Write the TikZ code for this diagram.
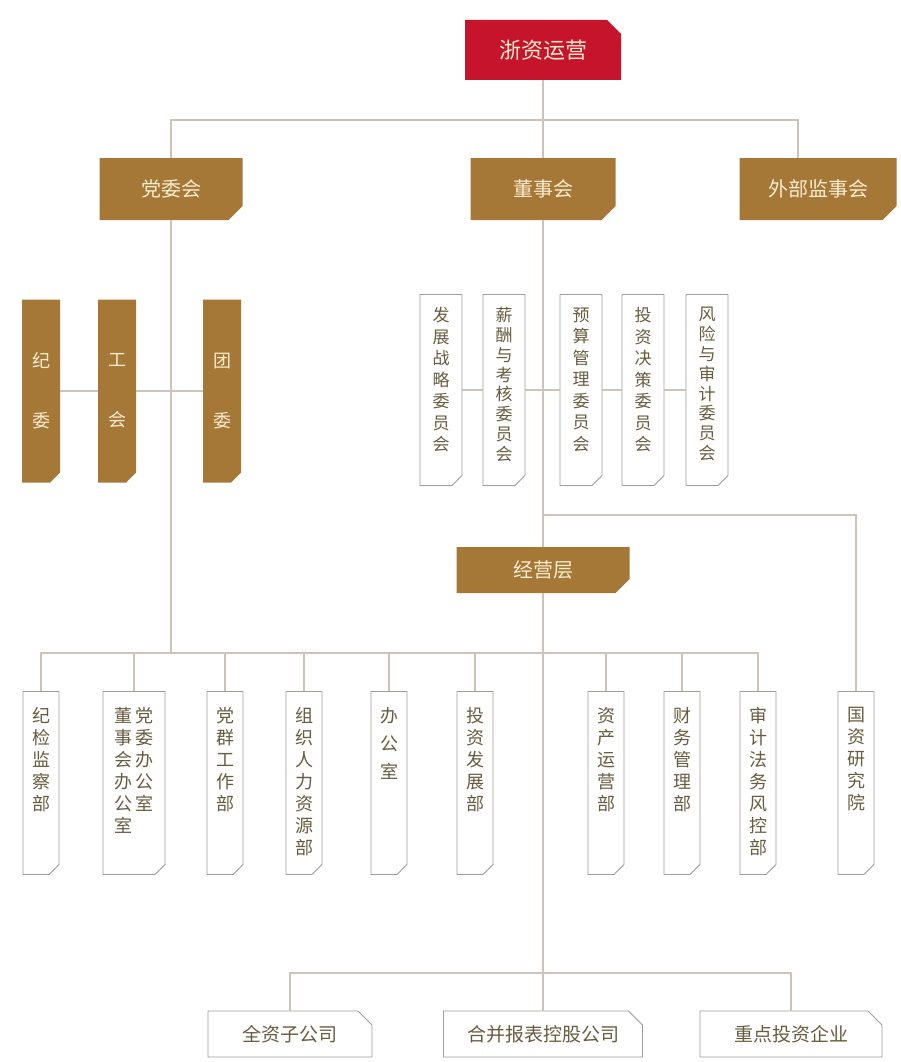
\documentclass[tikz,border=0pt]{standalone}
\usepackage{fontspec}
\usepackage{tikz}
\usetikzlibrary{shapes.misc, calc}
\newfontfamily\cjk{Noto Sans CJK SC}
\definecolor{rouge}{RGB}{198,20,44}
\definecolor{dore}{RGB}{166,120,56}
\definecolor{creme}{RGB}{250,236,206}
\definecolor{trait}{RGB}{204,196,184}
\definecolor{encre}{RGB}{104,92,64}
\definecolor{bord}{RGB}{160,156,150}
\newcommand{\colonne}[2]{\parbox[c][#1][t]{24pt}{\centering #2}}

\tikzset{
  ligne/.style={draw=trait, line width=1.3pt},
  coin/.style={chamfered rectangle, chamfered rectangle corners=#1,
    chamfered rectangle xsep=7pt, chamfered rectangle ysep=7pt},
  tete/.style={coin=north east, fill=rouge, text=creme,
    font=\cjk\fontsize{22}{26}\selectfont, minimum width=156pt,
    minimum height=60pt, inner sep=0pt},
  garde/.style={coin=south east, fill=dore, text=creme,
    font=\cjk\fontsize{20}{24}\selectfont, minimum height=62pt, inner sep=0pt},
  pilier/.style={coin=south east, chamfered rectangle xsep=5pt,
    chamfered rectangle ysep=5pt, fill=dore, text=creme,
    font=\cjk\fontsize{18}{22}\selectfont, minimum width=38pt,
    minimum height=183pt, inner sep=0pt, align=center},
  comite/.style={coin=south east, chamfered rectangle xsep=5pt,
    chamfered rectangle ysep=5pt, draw=bord, line width=0.9pt, fill=white,
    text=encre, font=\cjk\fontsize{17}{21}\selectfont,
    inner xsep=4pt, inner ysep=8pt},
  filiale/.style={coin=north east, draw=bord, line width=0.9pt, fill=white,
    text=encre, font=\cjk\fontsize{19}{22}\selectfont,
    minimum height=46pt, inner sep=0pt}
}

\begin{document}
\begin{tikzpicture}[x=1pt, y=-1pt]
  \useasboundingbox (0,0) rectangle (901,1062);

  % Tête du groupe
  \node[tete] (zy) at (543,50) {浙资运营};

  % Organes de gouvernance
  \node[garde, minimum width=143pt] (dwh) at (171,189) {党委会};
  \node[garde, minimum width=145pt] (dsh) at (543,189) {董事会};
  \node[garde, minimum width=157pt] (wbjs) at (818,189) {外部监事会};

  % Organes du parti
  \foreach \nom/\x/\a/\b in {jw/41/纪/委, gh/117/工/会, tw/222/团/委}
    \node[pilier] (\nom) at (\x,391) {\vspace{6pt}\a\\[38pt]\b};

  % Comités du conseil
  \foreach \nom/\x/\p/\txt in {c1/441/21.5/发\\展\\战\\略\\委\\员\\会,
      c2/504/19.8/薪\\酬\\与\\考\\核\\委\\员\\会, c3/581/21.5/预\\算\\管\\理\\委\\员\\会,
      c4/643/21.5/投\\资\\决\\策\\委\\员\\会, c5/707/19.8/风\\险\\与\\审\\计\\委\\员\\会}
    \node[comite] (\nom) at (\x,390)
      {\colonne{165pt}{\fontsize{17}{\p}\selectfont\txt}};

  % Direction
  \node[garde, minimum width=173pt, minimum height=46pt] (jyc) at (543,570) {经营层};

  % Départements
  \foreach \nom/\x/\txt in {d1/41/纪\\检\\监\\察\\部, d3/225/党\\群\\工\\作\\部,
      d4/304/组\\织\\人\\力\\资\\源\\部, d5/389/办\\[6pt]公\\[6pt]室,
      d6/475/投\\资\\发\\展\\部, d7/606/资\\产\\运\\营\\部,
      d8/682/财\\务\\管\\理\\部, d9/758/审\\计\\法\\务\\风\\控\\部,
      gzy/856/国\\资\\研\\究\\院}
    \node[comite, font=\cjk\fontsize{18}{22}\selectfont, inner xsep=1pt,
      inner ysep=11pt] (\nom) at (\x,783) {\colonne{151pt}{\txt}};
  \node[comite, font=\cjk\fontsize{18}{22}\selectfont, inner xsep=1pt,
    inner ysep=11pt] (d2) at (134,783)
    {\parbox[c][151pt][t]{50pt}{\centering
      \begin{tabular}{@{}c@{\hspace{3pt}}c@{}}
        董&党\\ 事&委\\ 会&办\\ 办&公\\ 公&室\\ 室&
      \end{tabular}}};

  % Sociétés
  \node[filiale, minimum width=164pt] (qz) at (290,1034) {全资子公司};
  \node[filiale, minimum width=199pt] (hb) at (543,1034) {合并报表控股公司};
  \node[filiale, minimum width=182pt] (zd) at (791,1034) {重点投资企业};

  % Liaisons
  \coordinate (haut) at (543,120);
  \coordinate (br) at (543,515);
  \coordinate (dep) at (543,653);
  \coordinate (bas) at (543,973);
  \draw[ligne] (zy.south) -- (dsh.north);
  \draw[ligne] (dwh.north) |- (haut) -| ([xshift=-20pt]wbjs.north);
  \foreach \a/\b in {jw/gh, gh/tw}
    \draw[ligne] (\a.east) -- (\b.west);
  \foreach \a/\b in {c1/c2, c2/c3, c3/c4, c4/c5}
    \draw[ligne] (\a.east) -- (\b.west);
  \draw[ligne] (dsh.south) -- (jyc.north);
  \draw[ligne] (br) -| (gzy.north);
  \draw[ligne] (dwh.south) -- (dwh.south |- dep);
  \draw[ligne] (d1.north) |- (dep) -| (d9.north);
  \foreach \nom in {d2,d3,d4,d5,d6,d7,d8}
    \draw[ligne] (\nom.north) -- (\nom.north |- dep);
  \draw[ligne] (jyc.south) -- (hb.north);
  \draw[ligne] (qz.north) |- (bas) -| (zd.north);
\end{tikzpicture}
\end{document}
